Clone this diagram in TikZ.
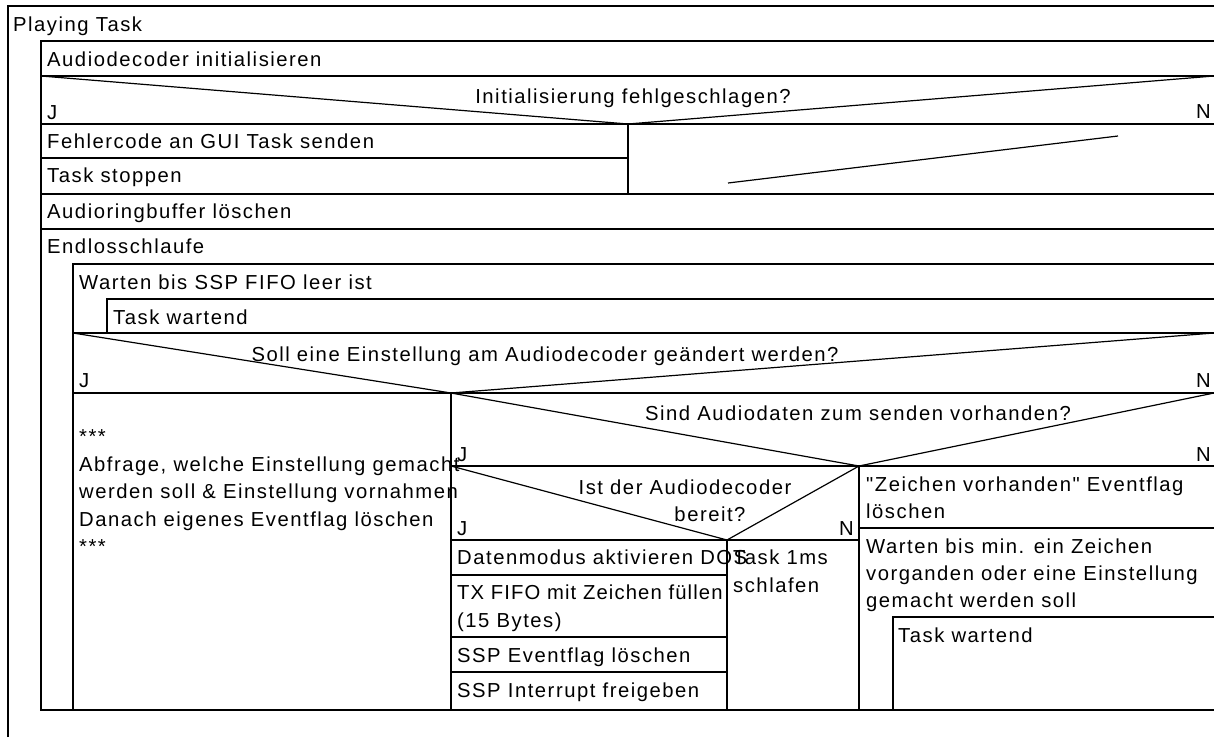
\documentclass[tikz,border=0pt]{standalone}
\usepackage{fontspec}
\setmainfont{Liberation Sans}[LetterSpace=7.5,Ligatures=TeXOff]
\begin{document}
\begin{tikzpicture}[x=1pt,y=-1pt,
  ln/.style={line width=1.2pt,line join=miter},
  txt/.style={anchor=base west,inner sep=0pt,font=\fontsize{20.25}{27.5}\selectfont},
  ctxt/.style={txt,anchor=base},
  rtxt/.style={txt,anchor=base east}]
\useasboundingbox (0,0) rectangle (1214,737);

% outer frame "Playing Task"
\draw[ln] (8,737) -- (8,6) -- (1214,6);
\node[txt] (title) at (13,31) {Playing Task};

% main sequence block
\draw[ln] (1214,41) -- (41,41) -- (41,710) -- (1214,710);
\draw[ln] (41,76) -- (1214,76);
\node[txt] (init) at (47,66) {Audiodecoder initialisieren};

% decision: initialisation failed?
\draw[ln] (41,76) -- (628,124) -- (1214,76);
\draw[ln] (41,124) -- (1214,124);
\node[ctxt] (q1) at (633,103) {Initialisierung fehlgeschlagen?};
\node[txt] (q1j) at (47,119) {J};
\node[rtxt] (q1n) at (1211,118) {N};
\draw[ln] (628,124) -- (628,194);
\draw[ln] (41,158) -- (628,158);
\node[txt] (err) at (47,148) {Fehlercode an GUI Task senden};
\node[txt] (stop) at (47,182) {Task stoppen};
% empty "no" branch
\draw[ln] (728,183) -- (1118,136);
\draw[ln] (41,194) -- (1214,194);

\node[txt] (ring) at (47,218) {Audioringbuffer löschen};
\draw[ln] (41,229) -- (1214,229);
\node[txt] (loop) at (47,253) {Endlosschlaufe};

% loop body
\draw[ln] (1214,264) -- (73,264) -- (73,710);
\node[txt] (wait1) at (79,289) {Warten bis SSP FIFO leer ist};
\draw[ln] (1214,299) -- (107,299) -- (107,333);
\node[txt] (tw1) at (113,324) {Task wartend};
\draw[ln] (73,333) -- (1214,333);

% decision: change a setting?
\draw[ln] (73,333) -- (451,393) -- (1214,333);
\draw[ln] (73,393) -- (1214,393);
\node[ctxt] (q2) at (545,361) {Soll eine Einstellung am Audiodecoder geändert werden?};
\node[txt] (q2j) at (79,387) {J};
\node[rtxt] (q2n) at (1211,387) {N};
\draw[ln] (451,393) -- (451,710);
\node[txt] (s1) at (79,443.5) {***};
\node[txt] (s2) at (79,471) {Abfrage, welche Einstellung gemacht};
\node[txt] (s3) at (79,498.5) {werden soll \& Einstellung vornahmen};
\node[txt] (s4) at (79,526) {Danach eigenes Eventflag löschen};
\node[txt] (s5) at (79,553.5) {***};

% decision: audio data available?
\draw[ln] (451,393) -- (859,466) -- (1214,393);
\draw[ln] (451,466) -- (1214,466);
\node[ctxt] (q3) at (858,420) {Sind Audiodaten zum senden vorhanden?};
\node[txt] (q3j) at (457,461) {J};
\node[rtxt] (q3n) at (1211,461) {N};
\draw[ln] (859,466) -- (859,710);

% decision: decoder ready?
\draw[ln] (451,466) -- (727,540) -- (859,466);
\draw[ln] (451,540) -- (859,540);
\node[ctxt] (q4a) at (685,494) {Ist der Audiodecoder};
\node[ctxt] (q4b) at (710,521) {bereit?};
\node[txt] (q4j) at (457,535) {J};
\node[rtxt] (q4n) at (854,535) {N};
\draw[ln] (727,540) -- (727,710);

\node[txt] (d1) at (457,564) {Datenmodus aktivieren DOS};
\draw[ln] (451,575) -- (727,575);
\node[txt] (d2a) at (457,599) {\addfontfeatures{LetterSpace=5.5}TX FIFO mit Zeichen füllen};
\node[txt] (d2b) at (457,627) {(15 Bytes)};
\draw[ln] (451,637) -- (727,637);
\node[txt] (d3) at (457,662) {SSP Eventflag löschen};
\draw[ln] (451,672) -- (727,672);
\node[txt] (d4) at (457,697) {SSP Interrupt freigeben};

\node[txt] (sl1) at (733,564) {Task 1ms};
\node[txt] (sl2) at (733,592) {schlafen};

% "no data" branch
\node[txt] (z1) at (866,491) {"Zeichen vorhanden" Eventflag};
\node[txt] (z2) at (866,518) {löschen};
\draw[ln] (859,528) -- (1214,528);
\node[txt] (w1) at (866,553) {Warten bis min. ein Zeichen};
\node[txt] (w2) at (866,580) {vorganden oder eine Einstellung};
\node[txt] (w3) at (866,607) {gemacht werden soll};
\draw[ln] (1214,617) -- (893,617) -- (893,710);
\node[txt] (tw2) at (898,642) {Task wartend};
\end{tikzpicture}
\end{document}
